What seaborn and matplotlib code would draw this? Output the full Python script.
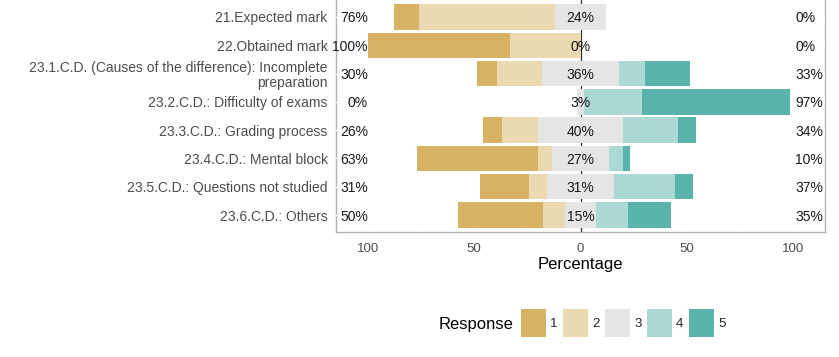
import seaborn as sns
import matplotlib.pyplot as plt
import pandas as pd
from matplotlib.patches import Patch

# survey items (top to bottom)
items = [
    "21.Expected mark",
    "22.Obtained mark",
    "23.1.C.D. (Causes of the difference): Incomplete\npreparation",
    "23.2.C.D.: Difficulty of exams",
    "23.3.C.D.: Grading process",
    "23.4.C.D.: Mental block",
    "23.5.C.D.: Questions not studied",
    "23.6.C.D.: Others",
]

# percentage of answers per response level
resp1 = [12.12, 66.67, 9.09, 0.00, 8.57, 56.67, 22.86, 40.00]
resp2 = [63.64, 33.33, 21.21, 0.00, 17.14, 6.67, 8.57, 10.00]
resp3 = [24.24, 0.00, 36.36, 3.03, 40.00, 26.67, 31.43, 15.00]
resp4 = [0.00, 0.00, 12.12, 27.27, 25.71, 6.67, 28.57, 15.00]
resp5 = [0.00, 0.00, 21.21, 69.70, 8.57, 3.33, 8.57, 20.00]

levels = ["1", "2", "3", "4", "5"]
colors = ["#D8B365", "#EBD9B2", "#E5E5E5", "#ADD9D5", "#5AB4AC"]

df = pd.DataFrame({"item": items, "r1": resp1, "r2": resp2, "r3": resp3,
                   "r4": resp4, "r5": resp5})
half = df["r3"] / 2
df["low"] = df["r1"] + df["r2"]
df["high"] = df["r4"] + df["r5"]

# cumulative extents from zero; the outer layers are drawn first
layers = [
    (-(df["r1"] + df["r2"] + half), colors[0]),
    (half + df["r4"] + df["r5"], colors[4]),
    (-(df["r2"] + half), colors[1]),
    (half + df["r4"], colors[3]),
    (-half, colors[2]),
    (half, colors[2]),
]

sns.set_style("white")
plt.rcParams["font.family"] = ["Liberation Sans", "DejaVu Sans"]

fig = plt.figure(figsize=(8.39, 3.57), dpi=100)
ax = fig.add_axes([336 / 839, 1 - 232 / 357, 489 / 839, 232 / 357])

ax.axvline(0, color="#333333", lw=0.9, zorder=0.8)
for ext, col in layers:
    sns.barplot(x=ext.values, y=df["item"], order=items, orient="h",
                color=col, saturation=1, width=0.9, linewidth=0,
                errorbar=None, ax=ax, zorder=1)

# percentage labels
txt = dict(va="center_baseline", fontsize=10, color="#1A1A1A", zorder=3)
for i, row in df.iterrows():
    ax.text(-100, i, f"{row['low']:.0f}%", ha="right", **txt)
    ax.text(0, i, f"{row['r3']:.0f}%", ha="center", **txt)
    ax.text(101, i, f"{row['high']:.0f}%", ha="left", **txt)

ax.set_xlim(-115, 115)
ax.set_ylim(7.6, -0.6)
ax.set_xticks([-100, -50, 0, 50, 100])
ax.set_xticklabels(["100", "50", "0", "50", "100"])
ax.set_xticks([-75, -25, 25, 75], minor=True)
ax.set_ylabel("")
ax.set_xlabel("Percentage", fontsize=12, color="black", labelpad=1)
ax.tick_params(axis="both", which="both", length=0, colors="#4D4D4D")
ax.tick_params(axis="x", labelsize=9.5, pad=8)
ax.tick_params(axis="y", labelsize=10, pad=6)
for lbl in ax.get_yticklabels():
    lbl.set_linespacing(1.1)

# white grid crossing the grey panel border
ax.set_axisbelow(True)
ax.grid(True, which="both", color="white", lw=1.0)
for side in ["left", "right", "bottom"]:
    ax.spines[side].set_color("#B3B3B3")
    ax.spines[side].set_linewidth(1.0)
    ax.spines[side].set_zorder(0.3)
ax.spines["top"].set_visible(False)

# legend with title on the left
handles = [Patch(facecolor=c, edgecolor="none") for c in colors]
fig.text(513 / 839, 1 - 325 / 357, "Response", ha="right", va="center",
         fontsize=12, color="black")
fig.legend(handles, levels, loc="center left",
           bbox_to_anchor=(521 / 839, 1 - 323 / 357), ncol=5, frameon=False,
           fontsize=9.5, handlelength=1.9, handleheight=2.9,
           handletextpad=0.3, columnspacing=0.42, borderpad=0,
           borderaxespad=0)

fig.savefig("out.png", dpi=100)
